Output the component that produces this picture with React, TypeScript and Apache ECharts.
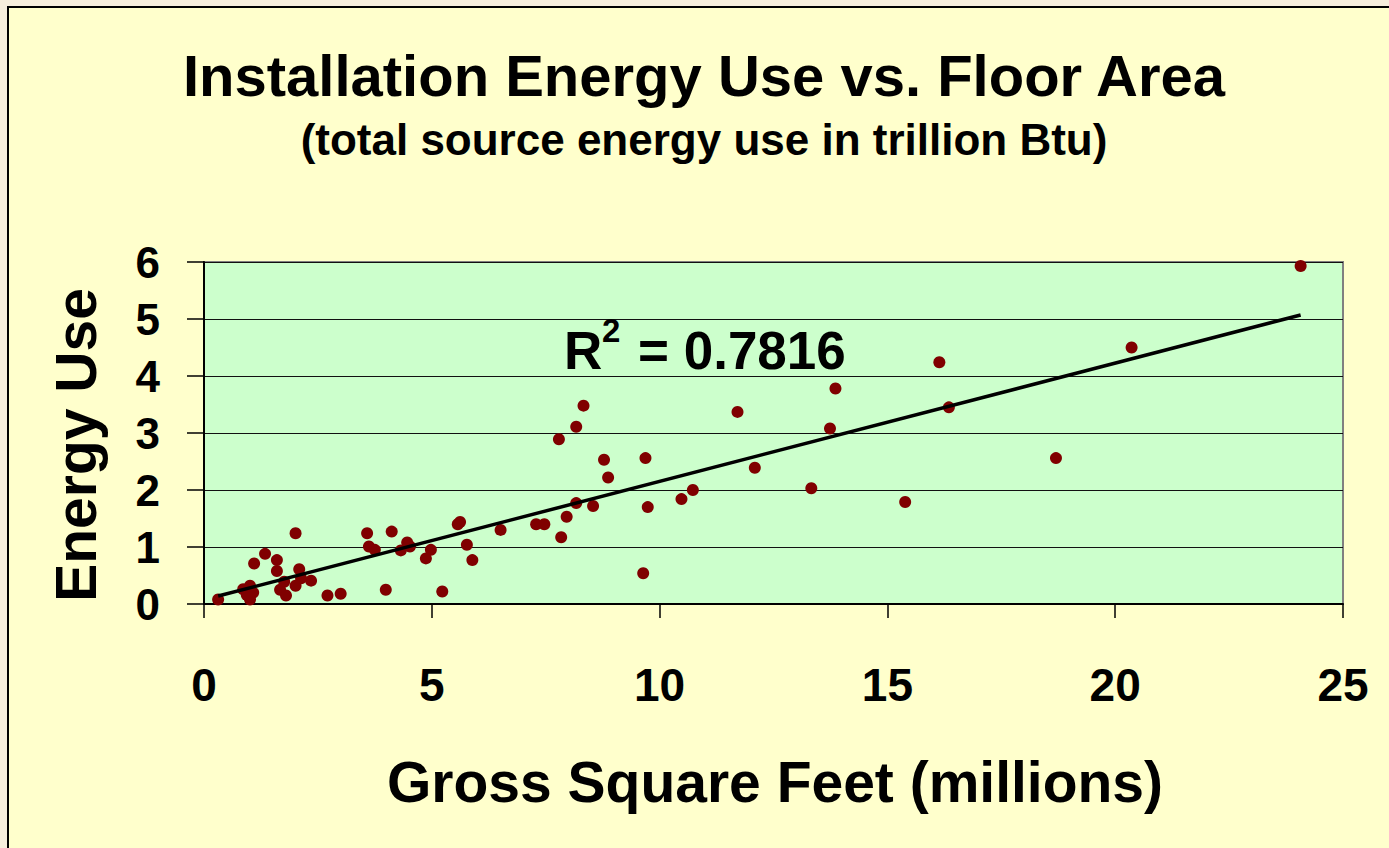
import React, { useEffect, useRef } from "react";
import * as echarts from "echarts";

// Gross square feet (millions)
const grossSqFt = [
  0.31, 0.86, 1.01, 0.94, 1.08, 1.01, 1.1, 1.34, 1.6, 1.6, 1.76, 1.67, 1.8, 2.01, 2.09, 2.01,
  2.13, 2.35, 2.71, 3.0, 3.58, 3.62, 3.75, 4.12, 3.99, 4.46, 4.52, 4.32, 4.98, 4.87, 5.23,
  5.57, 5.62, 5.77, 5.89, 6.51, 7.29, 7.47, 7.79, 8.17, 8.33, 7.84, 7.96, 8.17, 8.54, 8.78,
  8.87, 9.69, 9.74, 9.64, 10.48, 10.73, 11.71, 12.09, 13.33, 13.74, 13.86, 15.39, 16.14,
  16.35, 18.7, 20.36, 24.07,
];
// Energy use (trillion Btu)
const energyUse = [
  0.08, 0.26, 0.32, 0.16, 0.2, 0.08, 0.71, 0.88, 0.77, 0.58, 0.39, 0.25, 0.15, 1.24, 0.61, 0.32,
  0.45, 0.41, 0.15, 0.18, 1.24, 1.01, 0.95, 1.27, 0.25, 1.08, 1.01, 0.94, 0.95, 0.8, 0.22,
  1.4, 1.44, 1.04, 0.77, 1.3, 1.4, 1.4, 2.89, 3.11, 3.48, 1.17, 1.53, 1.77, 1.72, 2.53,
  2.22, 2.56, 1.7, 0.54, 1.84, 2.0, 3.37, 2.39, 2.03, 3.08, 3.78, 1.79, 4.24,
  3.45, 2.56, 4.5, 5.93,
];
const xTicks = [0, 5, 10, 15, 20, 25];
const yTicks = [0, 1, 2, 3, 4, 5, 6];
const rSquaredText = "0.7816";

const FONT = "'Liberation Sans', Arial, Helvetica, sans-serif";

export default function App() {
  const ref = useRef<HTMLDivElement>(null);
  useEffect(() => {
    if (!ref.current) return;
    const chart = echarts.init(ref.current, undefined, { renderer: "svg" });
    const pts = grossSqFt.map((x, i) => [x, energyUse[i]]);
    // least-squares linear trendline
    const n = pts.length;
    let sx = 0, sy = 0, sxx = 0, sxy = 0;
    pts.forEach(([x, y]) => { sx += x; sy += y; sxx += x * x; sxy += x * y; });
    const slope = (n * sxy - sx * sy) / (n * sxx - sx * sx);
    const intercept = (sy - slope * sx) / n;
    const minX = Math.min(...grossSqFt);
    const maxX = Math.max(...grossSqFt);
    const trend = [
      [minX, intercept + slope * minX],
      [maxX, intercept + slope * maxX],
    ];
    chart.setOption({
      animation: false,
      backgroundColor: "#F6EEDC",
      grid: {
        left: 204, top: 262, right: 46, bottom: 244,
        show: true, backgroundColor: "#CCFFCC", borderColor: "#808080", borderWidth: 2,
      },
      xAxis: {
        type: "value", min: xTicks[0], max: xTicks[xTicks.length - 1], interval: 5,
        splitLine: { show: false },
        axisLine: { onZero: false, lineStyle: { color: "#000", width: 2 } },
        axisTick: { show: true, length: 14, lineStyle: { color: "#000", width: 1.5 } },
        axisLabel: { margin: 58, fontSize: 46, fontWeight: "bold", color: "#000", fontFamily: FONT },
      },
      yAxis: {
        type: "value", min: yTicks[0], max: yTicks[yTicks.length - 1], interval: 1,
        splitLine: { show: true, lineStyle: { color: "#111", width: 1 } },
        axisLine: { show: true, lineStyle: { color: "#000", width: 2 } },
        axisTick: { show: true, length: 17, lineStyle: { color: "#000", width: 1.5 } },
        axisLabel: { margin: 44, fontSize: 44, fontWeight: "bold", color: "#000", fontFamily: FONT },
      },
      graphic: [
        {
          type: "rect", z: -100, silent: true,
          shape: { x: 8, y: 7, width: 1400, height: 900 },
          style: { fill: "#FFFFCC", stroke: "#000", lineWidth: 2 },
        },
        {
          type: "text", x: 704, y: 75,
          style: { text: "Installation Energy Use vs. Floor Area", fontSize: 58, fontWeight: "bold", fontFamily: FONT, fill: "#000", textAlign: "center", textVerticalAlign: "middle" },
        },
        {
          type: "text", x: 704, y: 139,
          style: { text: "(total source energy use in trillion Btu)", fontSize: 44, fontWeight: "bold", fontFamily: FONT, fill: "#000", textAlign: "center", textVerticalAlign: "middle" },
        },
        {
          type: "text", x: 76, y: 445, rotation: Math.PI / 2,
          style: { text: "Energy Use", fontSize: 57, fontWeight: "bold", fontFamily: FONT, fill: "#000", textAlign: "center", textVerticalAlign: "middle" },
        },
        {
          type: "text", x: 775, y: 782,
          style: { text: "Gross Square Feet (millions)", fontSize: 57, fontWeight: "bold", fontFamily: FONT, fill: "#000", textAlign: "center", textVerticalAlign: "middle" },
        },
        {
          type: "text", x: 564, y: 350, z: 10,
          style: { text: "R", fontSize: 53, fontWeight: "bold", fontFamily: FONT, fill: "#000", textAlign: "left", textVerticalAlign: "middle" },
        },
        {
          type: "text", x: 602, y: 330, z: 10,
          style: { text: "2", fontSize: 33, fontWeight: "bold", fontFamily: FONT, fill: "#000", textAlign: "left", textVerticalAlign: "middle" },
        },
        {
          type: "text", x: 638, y: 350, z: 10,
          style: { text: "= " + rSquaredText, fontSize: 53, fontWeight: "bold", fontFamily: FONT, fill: "#000", textAlign: "left", textVerticalAlign: "middle" },
        },
      ],
      series: [
        {
          type: "scatter", data: pts, symbol: "circle", symbolSize: 12,
          itemStyle: { color: "#800000", opacity: 1 }, z: 2,
        },
        {
          type: "line", data: trend, showSymbol: false, symbol: "none",
          lineStyle: { color: "#000", width: 3.5 }, z: 3, silent: true,
        },
      ],
    });
    return () => chart.dispose();
  }, []);
  return <div ref={ref} style={{ position: "fixed", left: 0, top: 0, width: 1389, height: 848 }} />;
}
